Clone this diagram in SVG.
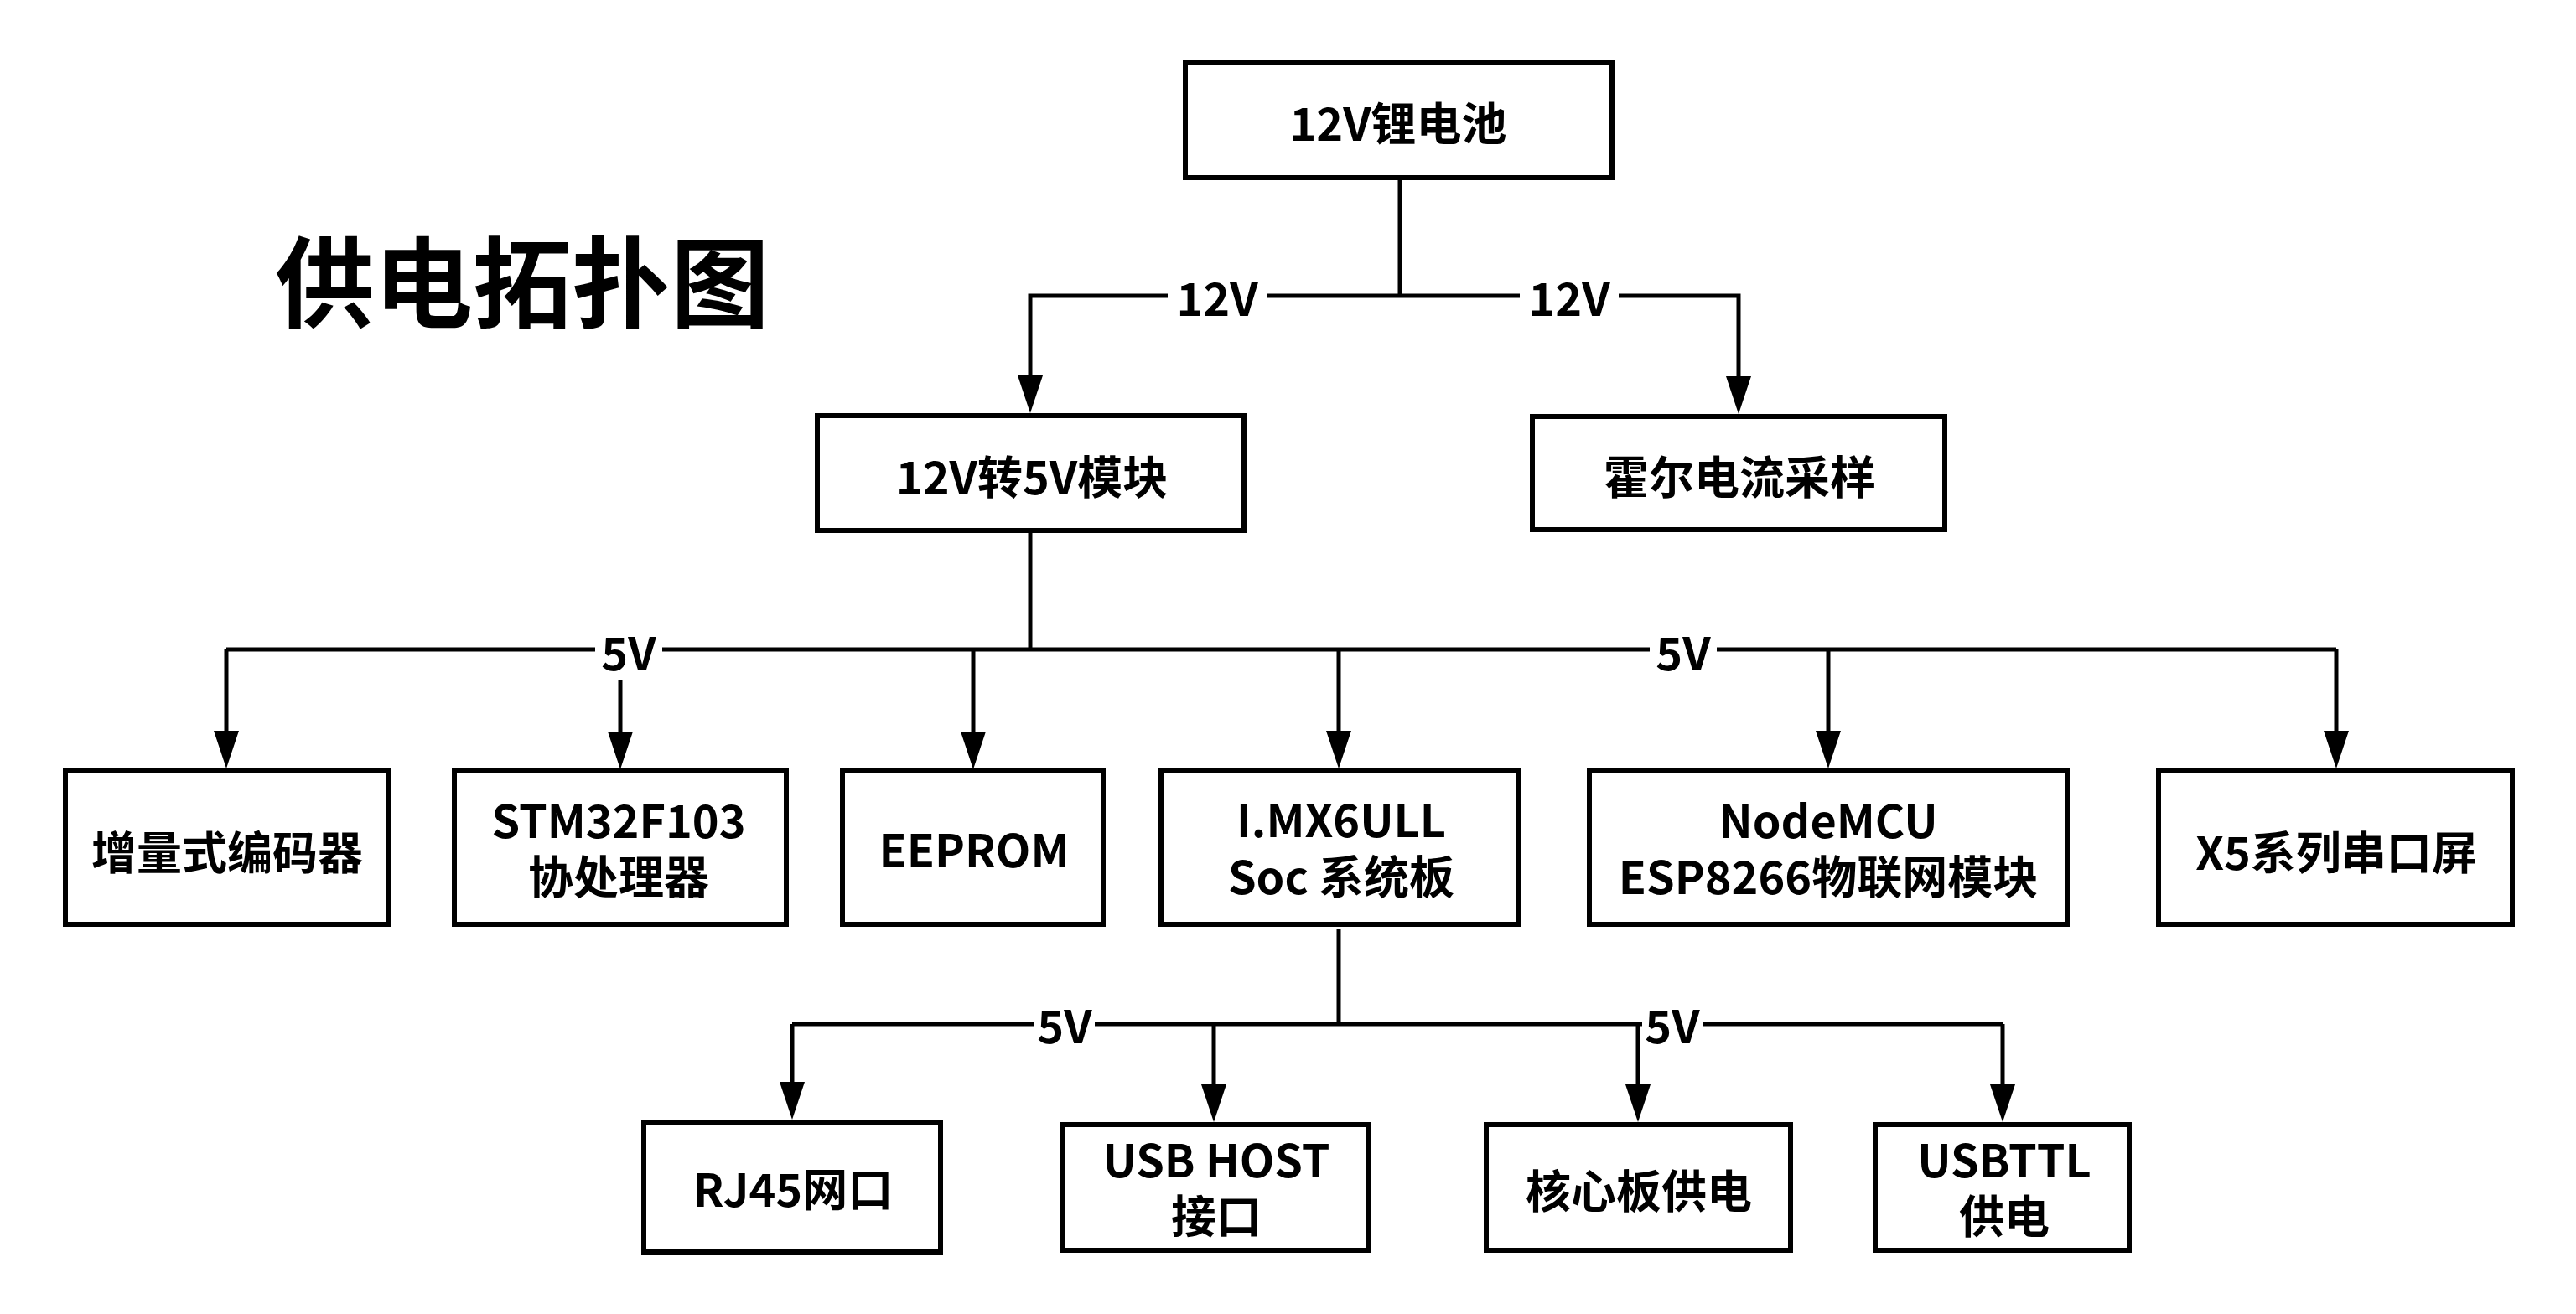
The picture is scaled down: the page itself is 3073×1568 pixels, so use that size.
<svg xmlns="http://www.w3.org/2000/svg" width="3073" height="1568" viewBox="0 0 3073 1568">
<defs>
<style>
.box{fill:#fff;stroke:#000;stroke-width:6}
.t{font-family:"Noto Sans CJK SC","Noto Sans",sans-serif;font-weight:bold;font-size:54px;fill:#000;text-anchor:middle}
.title{font-size:118px}
.ln{fill:none;stroke:#000;stroke-width:5}
.arr{marker-end:url(#ah)}
.lb{fill:#fff}
</style>
<marker id="ah" viewBox="0 0 45 30" refX="35" refY="15" markerWidth="45" markerHeight="30" markerUnits="userSpaceOnUse" orient="auto">
<path d="M0,0 L45,15 L0,30 z" fill="#000"/>
</marker>
</defs>
<rect width="3073" height="1568" fill="#fff"/>
<text class="t title" x="623" y="382">供电拓扑图</text>
<g id="connectors">
<path class="ln" d="M1670,215 V353"/>
<path class="ln arr" d="M1670,353 H1229 V483"/>
<path class="ln arr" d="M1670,353 H2074 V484"/>
<path class="ln" d="M1229,636 V775"/>
<path class="ln" d="M270,775 H2787"/>
<path class="ln arr" d="M270,775 V907"/>
<path class="ln arr" d="M740,775 V908"/>
<path class="ln arr" d="M1161,775 V908"/>
<path class="ln arr" d="M1597,775 V907"/>
<path class="ln arr" d="M2181,775 V907"/>
<path class="ln arr" d="M2787,775 V907"/>
<path class="ln" d="M1597,1108 V1222"/>
<path class="ln" d="M945,1222 H2389"/>
<path class="ln arr" d="M945,1222 V1326"/>
<path class="ln arr" d="M1448,1222 V1329"/>
<path class="ln arr" d="M1954,1222 V1329"/>
<path class="ln arr" d="M2389,1222 V1329"/>
<rect class="lb" x="1393" y="330" width="118" height="52"/>
<text class="t" x="1452" y="377">12V</text>
<rect class="lb" x="1813" y="330" width="118" height="52"/>
<text class="t" x="1872" y="377">12V</text>
<rect class="lb" x="710" y="752" width="80" height="60"/>
<text class="t" x="750" y="800">5V</text>
<rect class="lb" x="1968" y="752" width="80" height="54"/>
<text class="t" x="2008" y="800">5V</text>
<rect class="lb" x="1234" y="1198" width="72" height="52"/>
<text class="t" x="1270" y="1245">5V</text>
<rect class="lb" x="1959" y="1198" width="72" height="52"/>
<text class="t" x="1995" y="1245">5V</text>
</g>
<g id="battery"><rect class="box" x="1414" y="75" width="509" height="137"/><text class="t" x="1668" y="168">12V锂电池</text></g>
<g id="dcdc"><rect class="box" x="975" y="496" width="509" height="137"/><text class="t" x="1231" y="590">12V转5V模块</text></g>
<g id="hall"><rect class="box" x="1828" y="497" width="492" height="135"/><text class="t" x="2075" y="590">霍尔电流采样</text></g>
<g id="encoder"><rect class="box" x="78" y="920" width="385" height="183"/><text class="t" x="271" y="1038">增量式编码器</text></g>
<g id="stm32"><rect class="box" x="542" y="920" width="396" height="183"/><text class="t" x="738" y="1000">STM32F103</text><text class="t" x="738" y="1067">协处理器</text></g>
<g id="eeprom"><rect class="box" x="1005" y="920" width="311" height="183"/><text class="t" x="1162" y="1035">EEPROM</text></g>
<g id="imx"><rect class="box" x="1385" y="920" width="426" height="183"/><text class="t" x="1600" y="999">I.MX6ULL</text><text class="t" x="1600" y="1067">Soc 系统板</text></g>
<g id="nodemcu"><rect class="box" x="1896" y="920" width="570" height="183"/><text class="t" x="2181" y="1000">NodeMCU</text><text class="t" x="2181" y="1067">ESP8266物联网模块</text></g>
<g id="x5"><rect class="box" x="2575" y="920" width="422" height="183"/><text class="t" x="2787" y="1038">X5系列串口屏</text></g>
<g id="rj45"><rect class="box" x="768" y="1339" width="354" height="155"/><text class="t" x="946" y="1440">RJ45网口</text></g>
<g id="usbhost"><rect class="box" x="1267" y="1342" width="365" height="150"/><text class="t" x="1451" y="1405">USB HOST</text><text class="t" x="1451" y="1472">接口</text></g>
<g id="corepower"><rect class="box" x="1773" y="1342" width="363" height="150"/><text class="t" x="1955" y="1442">核心板供电</text></g>
<g id="usbttl"><rect class="box" x="2237" y="1342" width="303" height="150"/><text class="t" x="2391" y="1405">USBTTL</text><text class="t" x="2391" y="1472">供电</text></g>
</svg>
